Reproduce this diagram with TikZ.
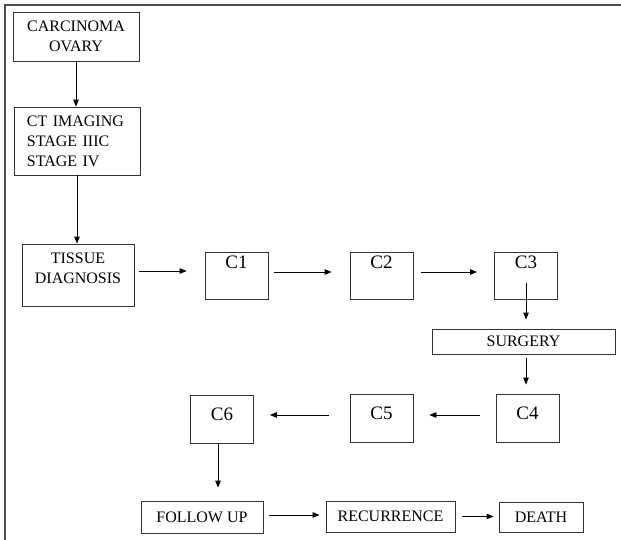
\documentclass[tikz,border=0pt]{standalone}
\usepackage{fontspec}
\setmainfont{Liberation Serif}
\usetikzlibrary{arrows.meta}

\newcommand{\boxfont}{\fontsize{16}{20}\selectfont}
\newcommand{\cfont}{\fontsize{19}{22}\selectfont}

\begin{document}
\begin{tikzpicture}[x=1pt,y=-1pt]
  % the styles
  \tikzset{
    box/.style={
      rectangle,
      draw=black!80,
      line width=0.8pt,
      inner xsep=0pt,
      inner ysep=2pt,
      align=center,
      font=\boxfont
    },
    cbox/.style={
      box,
      minimum width=63pt,
      inner ysep=0pt,
      font=\cfont
    },
    toprow/.style={text height=17pt, text depth=30pt},
    lowrow/.style={text height=25pt, text depth=23pt},
    link/.style={
      draw=black,
      line width=0.8pt,
      -{Triangle[length=7pt,width=5.5pt]}
    }
  }

\path[use as bounding box] (0,0) rectangle (621,540);
\draw[line width=1.2pt, black!70] (5,540) -- (5,5) -- (621,5);

\node[box, minimum width=126pt, minimum height=49pt] (carc) at (76,36.5) {CARCINOMA\\OVARY};
\node[box, text width=100pt, inner xsep=13pt, align=left, minimum height=68pt] (ct) at (77,141) {CT IMAGING\\STAGE IIIC\\STAGE IV};
\node[box, minimum width=112pt, inner ysep=0pt, text height=39pt, text depth=23pt] (tissue) at (78,275) {TISSUE\\DIAGNOSIS};

\node[cbox, toprow] (c1) at (236.5,275.5) {C1};
\node[cbox, toprow] (c2) at (381.5,275.5) {C2};
\node[cbox, toprow] (c3) at (526,275.5) {C3};
\node[box, minimum width=183pt, minimum height=25pt] (surgery) at (523.5,341.5) {SURGERY};
\node[cbox, lowrow] (c4) at (527.5,418) {C4};
\node[cbox, lowrow] (c5) at (381.5,418) {C5};
\node[cbox, lowrow] (c6) at (222,419) {C6};

\node[box, minimum width=122pt, minimum height=32pt] (follow) at (202,517) {FOLLOW UP};
\node[box, minimum width=129pt, minimum height=31pt] (recur) at (390.5,516.5) {RECURRENCE};
\node[box, minimum width=84pt, minimum height=30pt] (death) at (541,517) {DEATH};

% connectors
\draw[link] (carc.south) -- (carc.south |- ct.north);
\draw[link] (ct.south) -- (ct.south |- tissue.north);
\draw[link, shorten <=5pt, shorten >=18pt] ([yshift=4pt]tissue.east) -- ([yshift=4pt]tissue.east -| c1.west);
\draw[link, shorten <=6pt, shorten >=18pt] ([yshift=3.5pt]c1.east) -- ([yshift=3.5pt]c2.west);
\draw[link, shorten <=8pt, shorten >=17pt] ([yshift=3.5pt]c2.east) -- ([yshift=3.5pt]c3.west);
\draw[link, shorten >=9pt] ([yshift=16pt]c3.south) -- (c3.south |- surgery.north);
\draw[link, shorten <=4pt, shorten >=9pt] (c3.south |- surgery.south) -- (c3.south |- c4.north);
\draw[link, shorten <=16pt, shorten >=16pt] ([yshift=3pt]c4.west) -- ([yshift=3pt]c4.west -| c5.east);
\draw[link, shorten <=21pt, shorten >=16pt] ([yshift=3pt]c5.west) -- ([yshift=3pt]c5.west -| c6.east);
\draw[link, shorten >=13pt] ([xshift=-4pt]c6.south) -- ([xshift=-4pt]c6.south |- follow.north);
\draw[link, shorten <=6pt, shorten >=6pt] ([yshift=2pt]follow.east) -- ([yshift=2pt]follow.east -| recur.west);
\draw[link, shorten <=7pt, shorten >=5pt] (recur.east) -- (recur.east -| death.west);

\end{tikzpicture}
\end{document}
